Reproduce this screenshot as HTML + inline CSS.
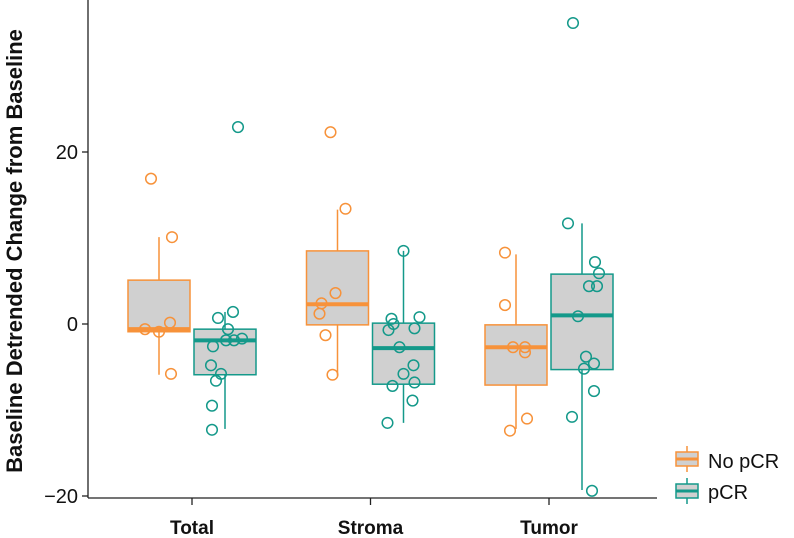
<!DOCTYPE html>
<html><head><meta charset="utf-8"><style>
html,body{margin:0;padding:0;background:#fff;}
svg{display:block;font-family:"Liberation Sans",Arial,sans-serif;}
</style></head><body>
<svg id="chart" width="794" height="538" viewBox="0 0 794 538">
<g id="plot"></g>
<line x1="88" y1="0" x2="88" y2="498" stroke="#222" stroke-width="1.3"/>
<line x1="88" y1="498" x2="657" y2="498" stroke="#222" stroke-width="1.3"/>
<g id="yticks"></g>
<g id="xticks"></g>
<text transform="translate(22,251) rotate(-90)" text-anchor="middle" font-weight="bold" font-size="22" fill="#111">Baseline Detrended Change from Baseline</text>
<g>
 <g>
  <line x1="687" y1="446" x2="687" y2="472" stroke="#F7923A" stroke-width="1.5"/>
  <rect x="676" y="452" width="22" height="14" fill="#D0D0D0" stroke="#F7923A" stroke-width="1.5"/>
  <line x1="676" y1="459" x2="698" y2="459" stroke="#F7923A" stroke-width="3"/>
  <text x="708" y="468" font-size="20" fill="#111">No pCR</text>
 </g>
 <g>
  <line x1="687" y1="478" x2="687" y2="504" stroke="#14998A" stroke-width="1.5"/>
  <rect x="676" y="484" width="22" height="14" fill="#D0D0D0" stroke="#14998A" stroke-width="1.5"/>
  <line x1="676" y1="491" x2="698" y2="491" stroke="#14998A" stroke-width="3"/>
  <text x="708" y="499" font-size="20" fill="#111">pCR</text>
 </g>
</g>
</svg>
<script>
const categories = ["Total", "Stroma", "Tumor"];
const groups = ["No pCR", "pCR"];
const yTicks = [20, 0, -20];
const q1 = [[-0.9, -5.9], [-0.1, -7.0], [-7.1, -5.3]];
const median = [[-0.6, -1.9], [2.3, -2.8], [-2.7, 1.0]];
const q3 = [[5.1, -0.6], [8.5, 0.1], [-0.1, 5.8]];
const whiskerLo = [[-5.9, -12.2], [-6.0, -11.5], [-12.2, -19.3]];
const whiskerHi = [[10.1, 1.4], [13.3, 8.5], [8.1, 11.7]];
const pointsTotalNo = [16.9, 10.1, -0.6, -0.9, 0.15, -5.8];
const pointsTotalPcr = [22.9, 0.7, 1.4, -0.6, -2.6, -1.9, -1.9, -1.7, -4.8, -5.8, -6.6, -9.5, -12.3];
const pointsStromaNo = [22.3, 13.4, 3.6, 2.4, 1.2, -1.3, -5.9];
const pointsStromaPcr = [8.5, 0.6, 0.8, 0.0, -0.7, -0.5, -2.7, -4.8, -5.8, -7.2, -6.8, -8.9, -11.5];
const pointsTumorNo = [8.3, 2.2, -2.7, -2.7, -3.3, -11.0, -12.4];
const pointsTumorPcr = [35.0, 11.7, 7.2, 5.9, 4.4, 4.4, 0.9, -3.8, -4.6, -5.2, -7.8, -10.8, -19.4];
const jitterTotalNo = [-8, 13, -14, 0, 11, 12];
const jitterTotalPcr = [13, -7, 8, 3, -12, 1, 9, 17, -14, -4, -9, -13, -13];
const jitterStromaNo = [-7, 8, -2, -16, -18, -12, -5];
const jitterStromaPcr = [0, -12, 16, -10, -15, 11, -4, 10, 0, -11, 11, 9, -16];
const jitterTumorNo = [-11, -11, -3, 9, 9, 11, -6];
const jitterTumorPcr = [-9, -14, 13, 17, 7, 15, -4, 4, 12, 2, 12, -10, 10];

const points = [[pointsTotalNo, pointsTotalPcr], [pointsStromaNo, pointsStromaPcr], [pointsTumorNo, pointsTumorPcr]];
const jitters = [[jitterTotalNo, jitterTotalPcr], [jitterStromaNo, jitterStromaPcr], [jitterTumorNo, jitterTumorPcr]];
const colors = ["#F7923A", "#14998A"];
const NS = "http://www.w3.org/2000/svg";
function y(v) { return 324 - v * 8.6; }
function xCat(i) { return 192 + i * 178.5; }
function xGroup(i, g) { return xCat(i) + (g === 0 ? -33 : 33); }
function mk(tag, attrs, parent) {
  const e = document.createElementNS(NS, tag);
  for (const k in attrs) e.setAttribute(k, attrs[k]);
  parent.appendChild(e);
  return e;
}
const plot = document.getElementById('plot');
const bw = 62;
categories.forEach((c, i) => {
  groups.forEach((g, gi) => {
    const cx = xGroup(i, gi), col = colors[gi];
    const grp = mk('g', {}, plot);
    
    
    const w = mk('line', {x1: cx, x2: cx, y1: y(whiskerHi[i][gi]), y2: y(whiskerLo[i][gi]), stroke: col, 'stroke-width': 1.5}, grp);
    
    
    const r = mk('rect', {x: cx - bw / 2, y: y(q3[i][gi]), width: bw, height: y(q1[i][gi]) - y(q3[i][gi]), fill: '#D0D0D0', stroke: col, 'stroke-width': 1.5}, grp);
    
    
    const m = mk('line', {x1: cx - bw / 2, x2: cx + bw / 2, y1: y(median[i][gi]), y2: y(median[i][gi]), stroke: col, 'stroke-width': 4}, grp);
    
    
    points[i][gi].forEach((v, k) => {
      const p = mk('circle', {cx: cx + jitters[i][gi][k], cy: y(v), r: 5.3, fill: 'none', stroke: col, 'stroke-width': 1.5}, grp);
      
      
    });
  });
});
const yt = document.getElementById('yticks');
yTicks.forEach(t => {
  const l = mk('line', {x1: 82, x2: 88, y1: y(t), y2: y(t), stroke: '#222', 'stroke-width': 1.3}, yt);
  
  
  const tx = mk('text', {x: 78, y: y(t) + 7, 'text-anchor': 'end', 'font-size': 20, fill: '#111'}, yt);
  tx.textContent = String(t).replace('-', '\u2212');
  
  
});
const xt = document.getElementById('xticks');
categories.forEach((c, i) => {
  const l = mk('line', {x1: xCat(i), x2: xCat(i), y1: 498, y2: 505, stroke: '#222', 'stroke-width': 1.3}, xt);
  
  
  const tx = mk('text', {x: xCat(i), y: 534, 'text-anchor': 'middle', 'font-size': 19, 'font-weight': 'bold', fill: '#111'}, xt);
  tx.textContent = c;
  
  
});
</script>
</body></html>
